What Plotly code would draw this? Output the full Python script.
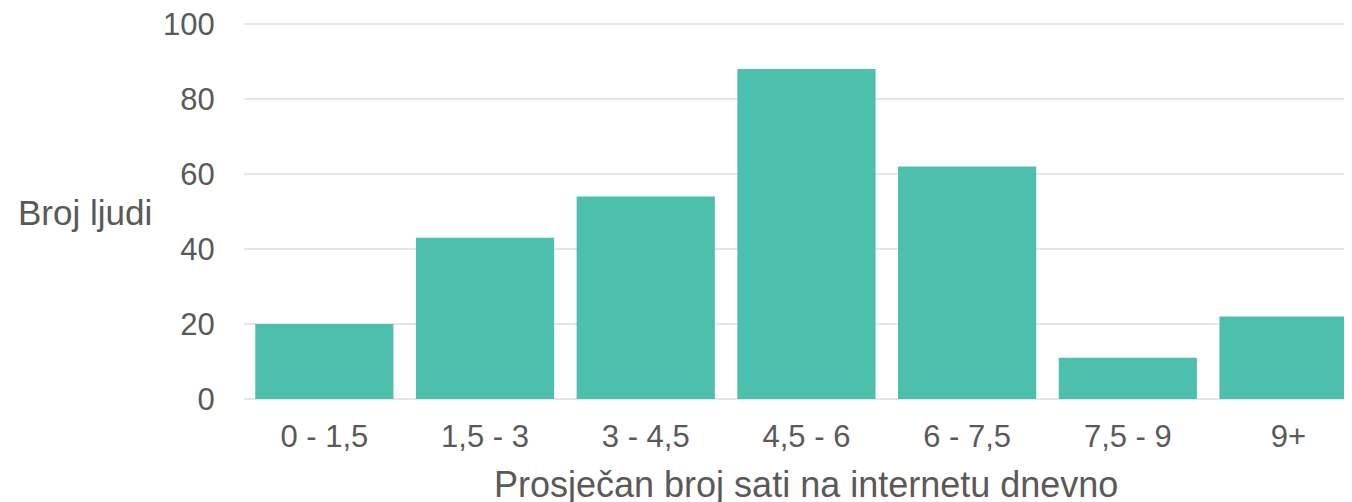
import plotly.graph_objects as go

categories = ["0 - 1,5", "1,5 - 3", "3 - 4,5", "4,5 - 6", "6 - 7,5", "7,5 - 9", "9+"]
counts = [20, 43, 54, 88, 62, 11, 22]
y_ticks = [0, 20, 40, 60, 80, 100]

# page body has an 8px margin; positions below are in figure coordinates
OFF = 8
W, H = 1352 - OFF, 502 - OFF
ML, MR, MT = 244 - OFF, 0, 14
PLOT_BOTTOM = 391
MB = H - PLOT_BOTTOM
pw = W - ML - MR
ph = H - MT - MB
Y_TOP = 100 + (24 - OFF - MT) * 100 / (PLOT_BOTTOM - (24 - OFF))

FONT = "Liberation Sans, Arial, sans-serif"
TXT = "#595959"

fig = go.Figure(go.Bar(x=categories, y=counts, marker=dict(color="#4DC0AD", line=dict(width=0))))

fig.update_layout(
    width=W, height=H,
    margin=dict(l=ML, r=MR, t=MT, b=MB),
    plot_bgcolor="white", paper_bgcolor="white",
    bargap=0.14,
    showlegend=False,
    font=dict(family=FONT, color=TXT, size=31),
)
fig.update_xaxes(
    range=[-0.5, 6.395], showgrid=False, zeroline=False, showline=False,
    tickfont=dict(size=31, color=TXT), ticks="outside", ticklen=10, tickcolor="rgba(0,0,0,0)",
    fixedrange=True,
)
fig.update_yaxes(
    range=[0, Y_TOP], tickvals=y_ticks, showgrid=True, gridcolor="#E6E6E6", gridwidth=1.5,
    zeroline=True, zerolinecolor="#E6E6E6", zerolinewidth=1.5, showline=False,
    tickfont=dict(size=31, color=TXT), ticks="outside", ticklen=22, tickcolor="rgba(0,0,0,0)",
    ticklabeloverflow="allow",
)

fig.add_annotation(
    text="Broj ljudi", xref="paper", yref="paper",
    x=(16 - OFF - ML) / pw, y=(PLOT_BOTTOM - (213 - OFF)) / ph, xanchor="left", yanchor="middle",
    showarrow=False, font=dict(size=35, color=TXT, family=FONT),
)
fig.add_annotation(
    text="Prosječan broj sati na internetu dnevno", xref="paper", yref="paper",
    x=(806 - OFF - ML) / pw, y=(PLOT_BOTTOM - (484 - OFF)) / ph, xanchor="center", yanchor="middle",
    showarrow=False, font=dict(size=36, color=TXT, family=FONT),
)

fig.write_html("out.html")
